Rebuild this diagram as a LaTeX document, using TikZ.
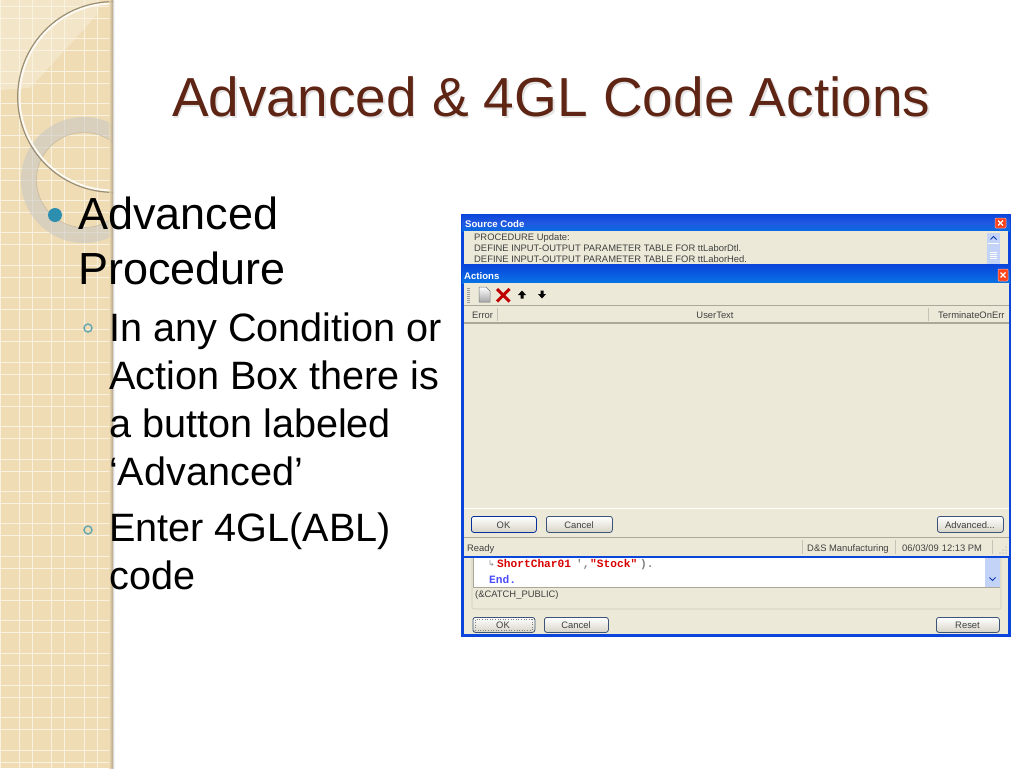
\documentclass[tikz,border=0pt]{standalone}
\usepackage{fontspec}
\setmainfont{Liberation Sans}
\newfontfamily\codefont{Liberation Mono}
\newfontfamily\symfont{DejaVu Sans}
\definecolor{stripfill}{HTML}{EFDCB4}
\definecolor{gridline}{HTML}{F9F2E0}
\definecolor{titlebrown}{HTML}{5E2414}
\definecolor{xpface}{HTML}{ECE9D8}
\definecolor{xpblue}{HTML}{0A45DC}
\definecolor{xpline}{HTML}{ACA899}
\definecolor{btnedge}{HTML}{3C5478}
\definecolor{scrollblue}{HTML}{C3D3F8}
\definecolor{teal}{HTML}{2C8FB0}
\definecolor{subteal}{HTML}{62A5B2}
\tikzset{
  txt/.style={inner sep=0pt,anchor=base west,text=black},
  tt/.style={txt,font=\fontsize{55}{55}\selectfont,text=titlebrown},
  ll/.style={txt,font=\fontsize{45}{45}\selectfont},
  sl/.style={txt,font=\fontsize{39.6}{40}\selectfont},
  ui/.style={inner sep=0pt,anchor=base,text=black!75,font=\fontsize{9.4}{10}\selectfont},
  uil/.style={ui,anchor=base west},
  wintitle/.style={inner sep=0pt,anchor=base west,text=white,font=\fontsize{9.6}{10}\selectfont\bfseries},
  xpbtn/.style={draw=btnedge,line width=.8pt,rounded corners=2.5pt,top color=white,bottom color=xpface!80!gray},
  closebtn/.style={draw=white!70!red,line width=.5pt,rounded corners=1pt,fill=red!65!orange!90!white},
  code/.style={inner sep=0pt,anchor=base west,font=\fontsize{11.2}{12}\selectfont\codefont\bfseries},
}
\begin{document}
\begin{tikzpicture}[x=1pt,y=-1pt]
\useasboundingbox (0,0) rectangle (1024,768);
\fill[white] (0,0) rectangle (1024,768);
% decorative strip
\begin{scope}
\clip (0,0) rectangle (113,768);
\fill[stripfill] (0,0) rectangle (113,768);
\fill[white,opacity=.28] (0,0) -- (100,0) -- (96,16) -- (30,88) -- (0,90) -- cycle;
\foreach \k in {0,...,3} {
  \draw[gridline,line width=1pt] ({19.3+32.4*\k},0) -- ({19.3+32.4*\k},768);
  \draw[gridline,line width=1pt] ({32.3+32.4*\k},0) -- ({32.3+32.4*\k},768);
}
\draw[gridline,line width=1pt] (.5,0) -- (.5,768);
\foreach \k in {0,...,23} {
  \draw[gridline,line width=1pt] (0,{6.4+32.33*\k}) -- (113,{6.4+32.33*\k});
  \draw[gridline,line width=1pt] (0,{18.4+32.33*\k}) -- (113,{18.4+32.33*\k});
}
\fill[gray!45!white,opacity=.55,even odd rule] (84,180) circle[radius=63] (84,180) circle[radius=47.5];
\draw[black!25!stripfill,line width=.5pt,opacity=.6] (84,180) circle[radius=47.5];
\draw[white!85!stripfill,line width=2pt] (113,97) circle[radius=93.5];
\draw[black!35!stripfill,line width=1.2pt] (113,97) circle[radius=95.3];
\shade[left color=stripfill,right color=black!32!stripfill,opacity=.8] (109,0) rectangle (113,768);
\end{scope}
\shade[left color=black!15!white,right color=white] (113,0) rectangle (114.5,768);
% title
\node[tt,text=black!30,opacity=.35] (titleshadow) at (173.5,118) {Advanced \& 4GL Code Actions};
\node[tt] (title) at (172,116) {Advanced \& 4GL Code Actions};
% bullets
\fill[teal] (55,215) circle[radius=7];
\draw[subteal,line width=1.4pt] (88,328) circle[radius=4];
\draw[subteal,line width=1.4pt] (88,530) circle[radius=4];
\node[ll] (l1) at (78,229) {Advanced};
\node[ll] (l2) at (78,284) {Procedure};
\node[sl] (s1) at (109,341) {In any Condition or};
\node[sl] (s2) at (109,389) {Action Box there is};
\node[sl] (s3) at (109,437) {a button labeled};
\node[sl] (s4) at (109,485) {‘Advanced’};
\node[sl] (s5) at (109,541) {Enter 4GL(ABL)};
\node[sl] (s6) at (109,589) {code};
% screenshot: back window
\fill[xpblue] (461,214) rectangle (1011,637);
\shade[top color=xpblue,bottom color=xpblue!80!cyan,middle color=xpblue!90!white] (462,214) rectangle (1010,231);
\fill[xpface] (464,231) rectangle (1008,264);
\node[wintitle] (srctitle) at (465,227) {Source Code};
\node[uil] (src1) at (474,240) {PROCEDURE Update:};
\node[uil] (src2) at (474,251) {DEFINE INPUT-OUTPUT PARAMETER TABLE FOR ttLaborDtl.};
\node[uil] (src3) at (474,262) {DEFINE INPUT-OUTPUT PARAMETER TABLE FOR ttLaborHed.};
\fill[closebtn] (995,218) rectangle (1006,228);
\draw[white,line width=1.2pt] (998,220.5) -- (1003,225.5) (1003,220.5) -- (998,225.5);
\fill[scrollblue] (987,233) rectangle (1000,264);
\draw[xpblue!80!black,line width=1pt] (990.5,239.5) -- (993.5,236.5) -- (996.5,239.5);
\draw[white,line width=.5pt] (988,243.5) -- (999,243.5);
\foreach \y in {252,254,256,258} \draw[white] (990,\y) -- (997,\y);
% lower part of back window
\fill[xpface] (464,558) rectangle (1008,634);
\draw[xpline!60,rounded corners=2pt,line width=.6pt] (472,558) -- (472,609) -- (1001,609) -- (1001,558);
\fill[white] (473,558) rectangle (1000,587);
\draw[xpline,line width=1pt] (473,558) -- (473,587) -- (1000,587);
\fill[scrollblue] (985,558) rectangle (1000,586.5);
\draw[xpblue!80!black,line width=1pt] (989.5,577.5) -- (992.5,580.5) -- (995.5,577.5);
\node[code,text=black!45,font=\fontsize{8}{9}\selectfont\symfont] (wrap) at (488,566) {↳};
\node[code,text=red!85!black] (c1) at (497,567) {ShortChar01};
\node[code,text=black!50] (c2) at (576,567) {',};
\node[code,text=red!85!black] (c3) at (590,567) {"Stock"};
\node[code,text=black!50] (c4) at (640,567) {).};
\node[code,text=blue!70!white] (c5) at (489,583) {End.};
\node[uil] (catch) at (475,597) {(\&CATCH\_PUBLIC)};
\node[xpbtn,minimum width=62pt,minimum height=15pt,inner sep=0pt,anchor=north west] (okb) at (472.5,617) {};
\draw[black!50,dotted,line width=.6pt] (475,619.5) rectangle (532,630);
\node[ui] (okbt) at (503,628) {OK};
\node[xpbtn,minimum width=64pt,minimum height=15pt,inner sep=0pt,anchor=north west] (canb) at (544,617) {};
\node[ui] (canbt) at (576,628) {Cancel};
\node[xpbtn,minimum width=63pt,minimum height=15pt,inner sep=0pt,anchor=north west] (resb) at (936,617) {};
\node[ui] (resbt) at (967.5,628) {Reset};
% front window
\fill[xpblue] (461,264) rectangle (1011,558);
\shade[top color=xpblue,bottom color=xpblue!75!cyan] (462,265) rectangle (1010,283);
\fill[xpface] (464,283) rectangle (1009,555.5);
\node[wintitle] (acttitle) at (464,279) {Actions};
\fill[closebtn] (998,269) rectangle (1008,281);
\draw[white,line width=1.2pt] (1000.5,272.5) -- (1005.5,277.5) (1005.5,272.5) -- (1000.5,277.5);
% toolbar
\foreach \y in {288,290,...,302} \draw[black!40,line width=.7pt] (467,\y) -- (470,\y);
\shade[top color=white,bottom color=black!35,draw=black!55,line width=.5pt] (479,287) -- (486,287) -- (490,291) -- (490,302) -- (479,302) -- cycle;
\draw[red!75!black,line width=3pt] (497,289) -- (509.5,301.5) (509.5,289) -- (497,301.5);
\fill[black] (522,290.5) -- (526,295) -- (523.5,295) -- (523.5,298.5) -- (520.5,298.5) -- (520.5,295) -- (518,295) -- cycle;
\fill[black] (542,298.5) -- (546,294) -- (543.5,294) -- (543.5,290.5) -- (540.5,290.5) -- (540.5,294) -- (538,294) -- cycle;
% header
\draw[xpline,line width=.8pt] (464,305.5) -- (1009,305.5);
\draw[xpline,line width=1.2pt] (464,323) -- (1009,323);
\draw[xpline!70,line width=.7pt] (497,308) -- (497,321) (928,308) -- (928,321);
\node[uil] (herr) at (472,318) {Error};
\node[ui] (huser) at (715,318) {UserText};
\node[uil] (hterm) at (938,318) {TerminateOnErr};
% bottom buttons
\draw[white,line width=.6pt] (464,508.5) -- (1009,508.5);
\node[xpbtn,draw=xpblue!70!black,minimum width=65pt,minimum height=16pt,inner sep=0pt,anchor=north west] (ok) at (471,516) {};
\node[ui] (okt) at (503.5,528) {OK};
\node[xpbtn,minimum width=66pt,minimum height=16pt,inner sep=0pt,anchor=north west] (can) at (546,516) {};
\node[ui] (cant) at (579,528) {Cancel};
\node[xpbtn,minimum width=66pt,minimum height=16pt,inner sep=0pt,anchor=north west] (adv) at (937,516) {};
\node[ui] (advt) at (970,528) {Advanced...};
% status bar
\draw[xpline,line width=1pt] (464,537.5) -- (1009,537.5);
\draw[xpline!70,line width=.7pt] (802,540) -- (802,554) (895,540) -- (895,554) (992,540) -- (992,554);
\node[uil] (ready) at (467,551) {Ready};
\node[uil] (co) at (807,551) {D\&S Manufacturing};
\node[uil] (dt) at (902,551) {06/03/09\hspace{3pt}12:13 PM};
\foreach \p in {(1006,553),(1003,553),(1000,553),(1006,550),(1003,550),(1006,547)} \fill[black!35] \p circle[radius=.6];
\end{tikzpicture}
\end{document}
